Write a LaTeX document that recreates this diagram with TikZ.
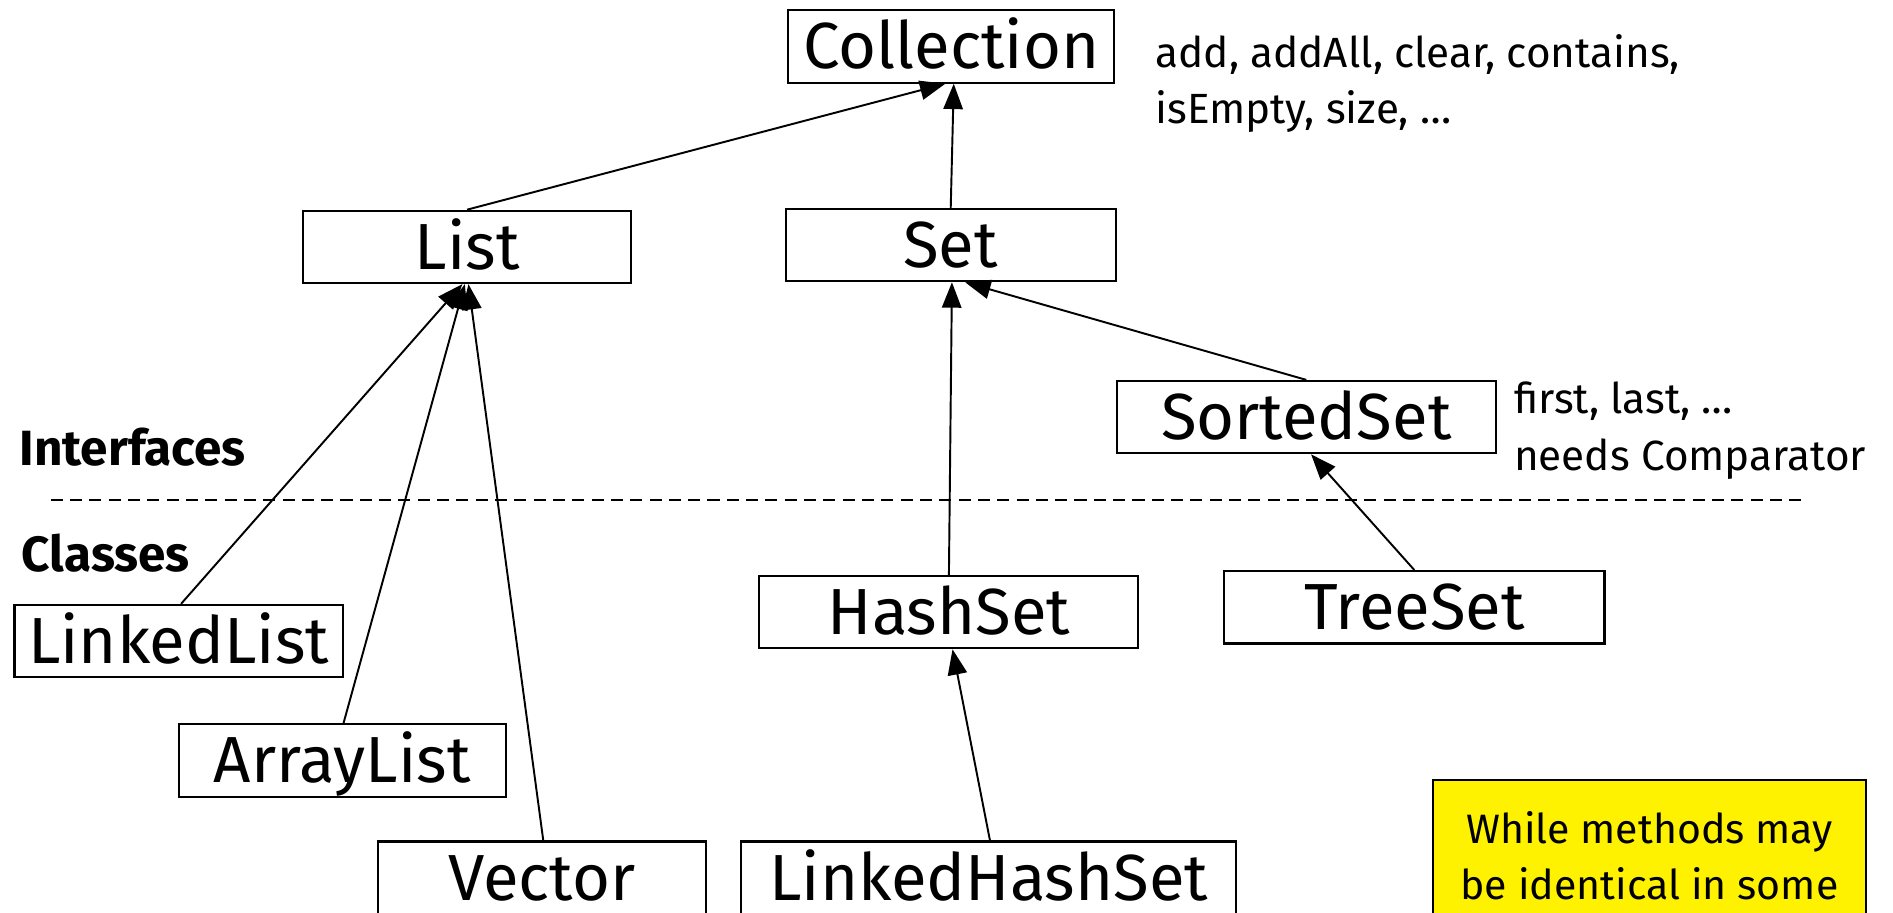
\documentclass[tikz,border=0pt]{standalone}
\usepackage{fontspec}
\setmainfont{Fira Sans}
\usetikzlibrary{arrows.meta}

\begin{document}
\begin{tikzpicture}[x=1pt,y=-1pt,
  box/.style={draw, line width=1.7pt, minimum height=60pt, inner sep=0pt,
              text height=37pt, text depth=0pt,
              font=\fontsize{54}{60}\selectfont},
  arr/.style={line width=1.6pt, -{Triangle[length=21pt,width=16pt]}},
  remark/.style={anchor=west, inner sep=0pt, font=\fontsize{35}{40}\selectfont},
  tag/.style={anchor=west, inner sep=0pt, font=\fontsize{41}{46}\selectfont\bfseries}]

\useasboundingbox (0,0) rectangle (1568,756);
\clip (0,0) rectangle (1568,756);

% interfaces
\node[box, minimum width=270pt] (coll)   at (788,38.5)  {Collection};
\node[box, minimum width=272pt] (list)   at (387,204.5) {List};
\node[box, minimum width=273pt] (set)    at (787.5,203) {Set};
\node[box, minimum width=314pt] (sorted) at (1082,345.5){SortedSet};

% classes
\node[box, minimum width=272pt] (linked) at (148,531)   {LinkedList};
\node[box, minimum width=271pt] (array)  at (283.5,630) {ArrayList};
\node[box, minimum width=272pt] (vector) at (449,727)   {Vector};
\node[box, minimum width=314pt] (hash)   at (786,507)   {HashSet};
\node[box, minimum width=315pt] (tree)   at (1171.5,503){TreeSet};
\node[box, minimum width=410pt] (lhs)    at (819,727)   {LinkedHashSet};

% method notes
\node[remark] (cmeth1) at (957,45)  {add, addAll, clear, contains,};
\node[remark] (cmeth2) at (957,92)  {isEmpty, size, …};
\node[remark] (smeth1) at (1254,332) {first, last, …};
\node[remark] (smeth2) at (1254,380) {needs Comparator};

% layer labels and divider
\node[tag] (iface) at (16,370) {Interfaces};
\node[tag] (klass) at (18,458) {Classes};
\coordinate (divL) at (42,414);
\coordinate (divR) at (1492,414);
\draw[line width=1.2pt, dash pattern=on 10pt off 6pt] (divL) -- (divR);

% yellow note
\node[draw, line width=1.6pt, fill=yellow, anchor=north west,
      minimum width=359pt, minimum height=126pt, inner sep=0pt,
      align=center, font=\fontsize{34}{47}\selectfont] (warn) at (1186,645)
      {While methods may\\be identical in some};

% inheritance arrows
\draw[arr] (list.north) -- ([xshift=-5pt]coll.south);
\draw[arr] (set.north) -- ([xshift=2pt]coll.south);
\draw[arr] ([xshift=2pt]linked.north) -- ([xshift=-4pt]list.south);
\draw[arr] ([xshift=1pt]array.north) -- ([xshift=-2pt]list.south);
\draw[arr] ([xshift=1pt]vector.north) -- ([xshift=1pt]list.south);
\draw[arr] (hash.north) -- ([xshift=1pt]set.south);
\draw[arr] (sorted.north) -- ([xshift=12pt]set.south);
\draw[arr] (tree.north) -- ([xshift=4pt]sorted.south);
\draw[arr] ([xshift=1pt]lhs.north) -- ([xshift=3pt]hash.south);
\end{tikzpicture}
\end{document}
